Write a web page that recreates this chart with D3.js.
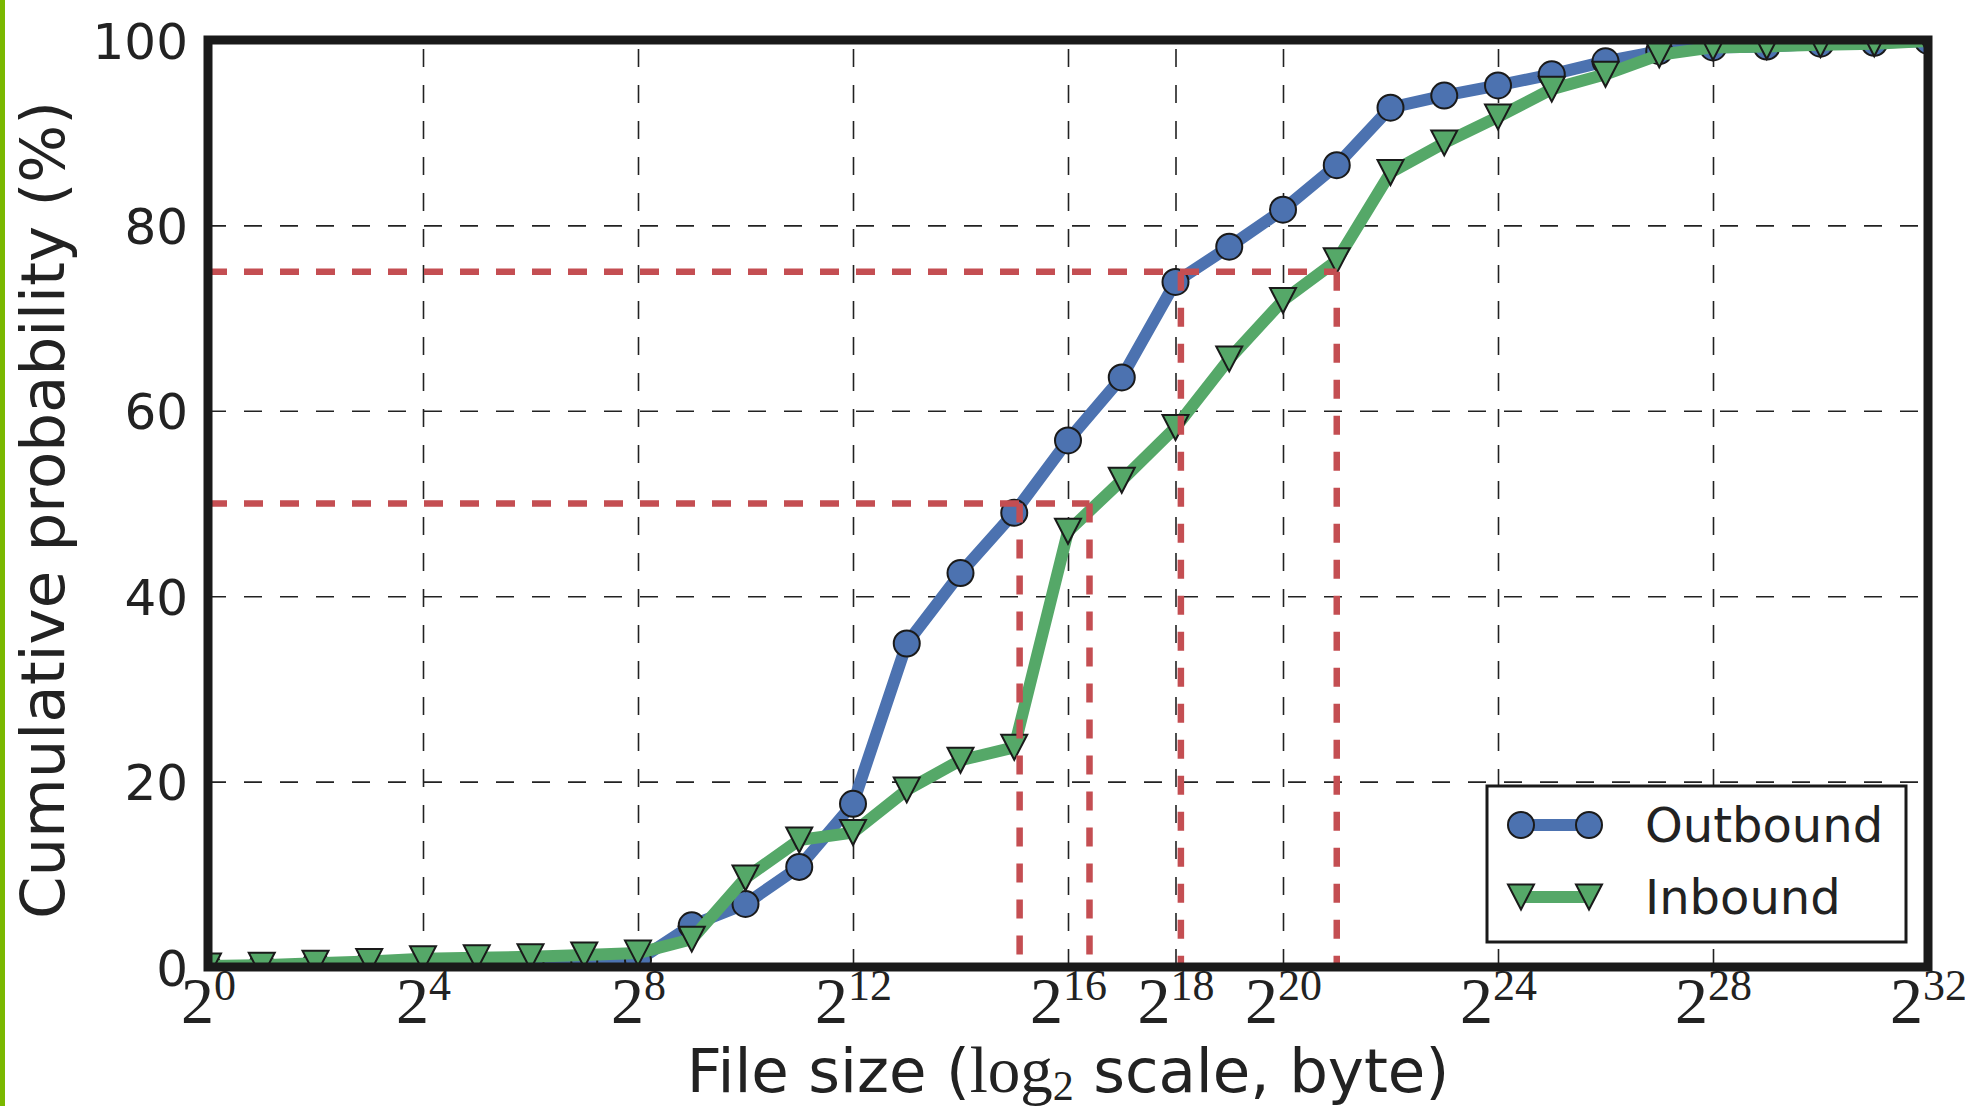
<!DOCTYPE html>
<html>
<head>
<meta charset="utf-8">
<title>File size CDF</title>
<script src="https://d3js.org/d3.v7.min.js"></script>
<style>
  body { margin: 0; background: #fff; }
  svg { display: block; }
  text { fill: #222; }
</style>
</head>
<body>
<svg width="1965" height="1106"></svg>
<script>
// file sizes as powers of two (bytes)
let sizeExp = [0,1,2,3,4,5,6,7,8,9,10,11,12,13,14,15,16,17,18,19,20,21,22,23,24,25,26,27,28,29,30,31,32];
// cumulative probability (%)
let outbound = [0.05,0.1,0.3,0.35,0.4,0.45,0.5,0.6,0.7,4.5,6.8,10.8,17.6,34.9,42.5,49.0,56.8,63.6,73.9,77.7,81.7,86.5,92.7,94.0,95.1,96.3,97.7,98.8,99.2,99.3,99.6,99.7,99.9];
let inbound  = [0.1,0.2,0.4,0.6,0.9,1.0,1.1,1.3,1.5,3.0,9.6,13.7,14.5,19.1,22.3,23.7,47.0,52.5,58.2,65.6,71.9,76.2,85.7,88.9,91.7,94.7,96.3,98.4,99.2,99.3,99.5,99.6,99.9];
let xTickExp = [0,4,8,12,16,18,20,24,28,32];
let yTicks = [0,20,40,60,80,100];
// reference levels (median, 75th pct) and where each series crosses them (log2 bytes)
let refLevels = [50, 75];
let outboundAt = [15.1, 18.1];
let inboundAt = [16.4, 21.0];

let svg = d3.select('svg');
let margin = {top: 40, bottom: 139, left: 208, right: 37};
let width = 1965 - margin.left - margin.right;
let height = 1106 - margin.top - margin.bottom;

// green bar on the left edge of the page
svg.append('rect').attr('x', 0).attr('y', 0).attr('width', 5).attr('height', 1106).attr('fill', '#7ab800');

let g = svg.append('g').attr('transform', `translate(${margin.left},${margin.top})`);

let x = d3.scaleLog().base(2).domain([2 ** 0, 2 ** 32]).range([0, width]);
let y = d3.scaleLinear().domain([0, 100]).range([height, 0]);

g.append('clipPath').attr('id', 'plot')
  .append('rect').attr('width', width).attr('height', height);

// grid
let gx = g.append('g')
  .attr('transform', `translate(0,${height})`)
  .call(d3.axisBottom(x).tickValues(xTickExp.map(e => 2 ** e)).tickSize(-height).tickFormat(''));
let gy = g.append('g')
  .call(d3.axisLeft(y).tickValues(yTicks).tickSize(-width).tickFormat(''));
[gx, gy].forEach(a => {
  a.select('.domain').remove();
  a.selectAll('.tick line').attr('stroke', '#222').attr('stroke-width', 1.6).attr('stroke-dasharray', '18,18');
});

// tick labels
let xl = g.append('g')
  .attr('transform', `translate(0,${height})`)
  .call(d3.axisBottom(x).tickValues(xTickExp.map(e => 2 ** e)).tickSize(0));
xl.select('.domain').remove();
xl.selectAll('.tick text').each(function(d) {
  let t = d3.select(this).text(null)
    .attr('y', 56).attr('dy', null)
    .attr('font-family', '"Liberation Serif", serif').attr('font-size', 66).attr('fill', '#222');
  t.append('tspan').text('2');
  t.append('tspan').attr('font-size', 44).attr('dy', -23).text(Math.round(Math.log2(d)));
});

let yl = g.append('g')
  .call(d3.axisLeft(y).tickValues(yTicks).tickSize(0).tickPadding(20));
yl.select('.domain').remove();
yl.selectAll('.tick text')
  .attr('font-family', '"DejaVu Sans", sans-serif').attr('font-size', 50).attr('fill', '#222').attr('dy', '0.36em');

// series
let plot = g.append('g').attr('clip-path', 'url(#plot)');
let line = d3.line().x(d => x(2 ** d[0])).y(d => y(d[1]));
let triangle = 'M-13,-12.5L13,-12.5L0,12.5Z';

let outPts = sizeExp.map((e, i) => [e, outbound[i]]);
let inPts = sizeExp.map((e, i) => [e, inbound[i]]);

plot.append('path').datum(outPts).attr('d', line)
  .attr('fill', 'none').attr('stroke', '#4c72b0').attr('stroke-width', 12).attr('stroke-linejoin', 'round');
plot.selectAll('.outMark').data(outPts).join('circle')
  .attr('cx', d => x(2 ** d[0])).attr('cy', d => y(d[1])).attr('r', 13)
  .attr('fill', '#4c72b0').attr('stroke', '#1a1a1a').attr('stroke-width', 2);

plot.append('path').datum(inPts).attr('d', line)
  .attr('fill', 'none').attr('stroke', '#55a868').attr('stroke-width', 12).attr('stroke-linejoin', 'round');
plot.selectAll('.inMark').data(inPts).join('path')
  .attr('d', triangle)
  .attr('transform', d => `translate(${x(2 ** d[0])},${y(d[1])})`)
  .attr('fill', '#55a868').attr('stroke', '#1a1a1a').attr('stroke-width', 2);

// red reference lines
let red = {stroke: '#c44e52', w: 6.5, dash: '19,17'};
refLevels.forEach((lvl, i) => {
  let xs = [outboundAt[i], inboundAt[i]];
  plot.append('line')
    .attr('x1', 0).attr('x2', x(2 ** d3.max(xs)))
    .attr('y1', y(lvl)).attr('y2', y(lvl))
    .attr('stroke', red.stroke).attr('stroke-width', red.w).attr('stroke-dasharray', red.dash);
  xs.forEach(v => {
    plot.append('line')
      .attr('x1', x(2 ** v)).attr('x2', x(2 ** v))
      .attr('y1', y(lvl)).attr('y2', y(0))
      .attr('stroke', red.stroke).attr('stroke-width', red.w).attr('stroke-dasharray', red.dash);
  });
});

// frame
g.append('rect').attr('width', width).attr('height', height)
  .attr('fill', 'none').attr('stroke', '#1a1a1a').attr('stroke-width', 9);

// legend
let lg = svg.append('g').attr('transform', 'translate(1487,786)');
lg.append('rect').attr('width', 419).attr('height', 156)
  .attr('fill', '#fff').attr('stroke', '#1a1a1a').attr('stroke-width', 3);
let entries = [
  {name: 'Outbound', color: '#4c72b0', mark: 'circle'},
  {name: 'Inbound', color: '#55a868', mark: 'tri'}
];
entries.forEach((e, i) => {
  let yy = 39 + i * 72;
  lg.append('line').attr('x1', 34).attr('x2', 102).attr('y1', yy).attr('y2', yy)
    .attr('stroke', e.color).attr('stroke-width', 12);
  [34, 102].forEach(mx => {
    if (e.mark === 'circle') {
      lg.append('circle').attr('cx', mx).attr('cy', yy).attr('r', 13)
        .attr('fill', e.color).attr('stroke', '#1a1a1a').attr('stroke-width', 2);
    } else {
      lg.append('path').attr('d', triangle).attr('transform', `translate(${mx},${yy})`)
        .attr('fill', e.color).attr('stroke', '#1a1a1a').attr('stroke-width', 2);
    }
  });
  lg.append('text').attr('x', 158).attr('y', yy).attr('dy', '0.36em')
    .attr('font-family', '"DejaVu Sans", sans-serif').attr('font-size', 48).text(e.name);
});

// axis titles
svg.append('text')
  .attr('transform', `translate(64,510) rotate(-90)`)
  .attr('text-anchor', 'middle')
  .attr('font-family', '"DejaVu Sans", sans-serif').attr('font-size', 61)
  .text('Cumulative probability (%)');

let xt = svg.append('text')
  .attr('x', margin.left + width / 2).attr('y', 1092)
  .attr('text-anchor', 'middle')
  .attr('font-family', '"DejaVu Sans", sans-serif').attr('font-size', 61);
xt.append('tspan').text('File size (');
xt.append('tspan').attr('font-family', '"Liberation Serif", serif').attr('font-size', 65).text('log');
xt.append('tspan').attr('font-family', '"Liberation Serif", serif').attr('font-size', 42).attr('dy', 8).text('2');
xt.append('tspan').attr('dy', -8).text(' scale, byte)');
</script>
</body>
</html>
